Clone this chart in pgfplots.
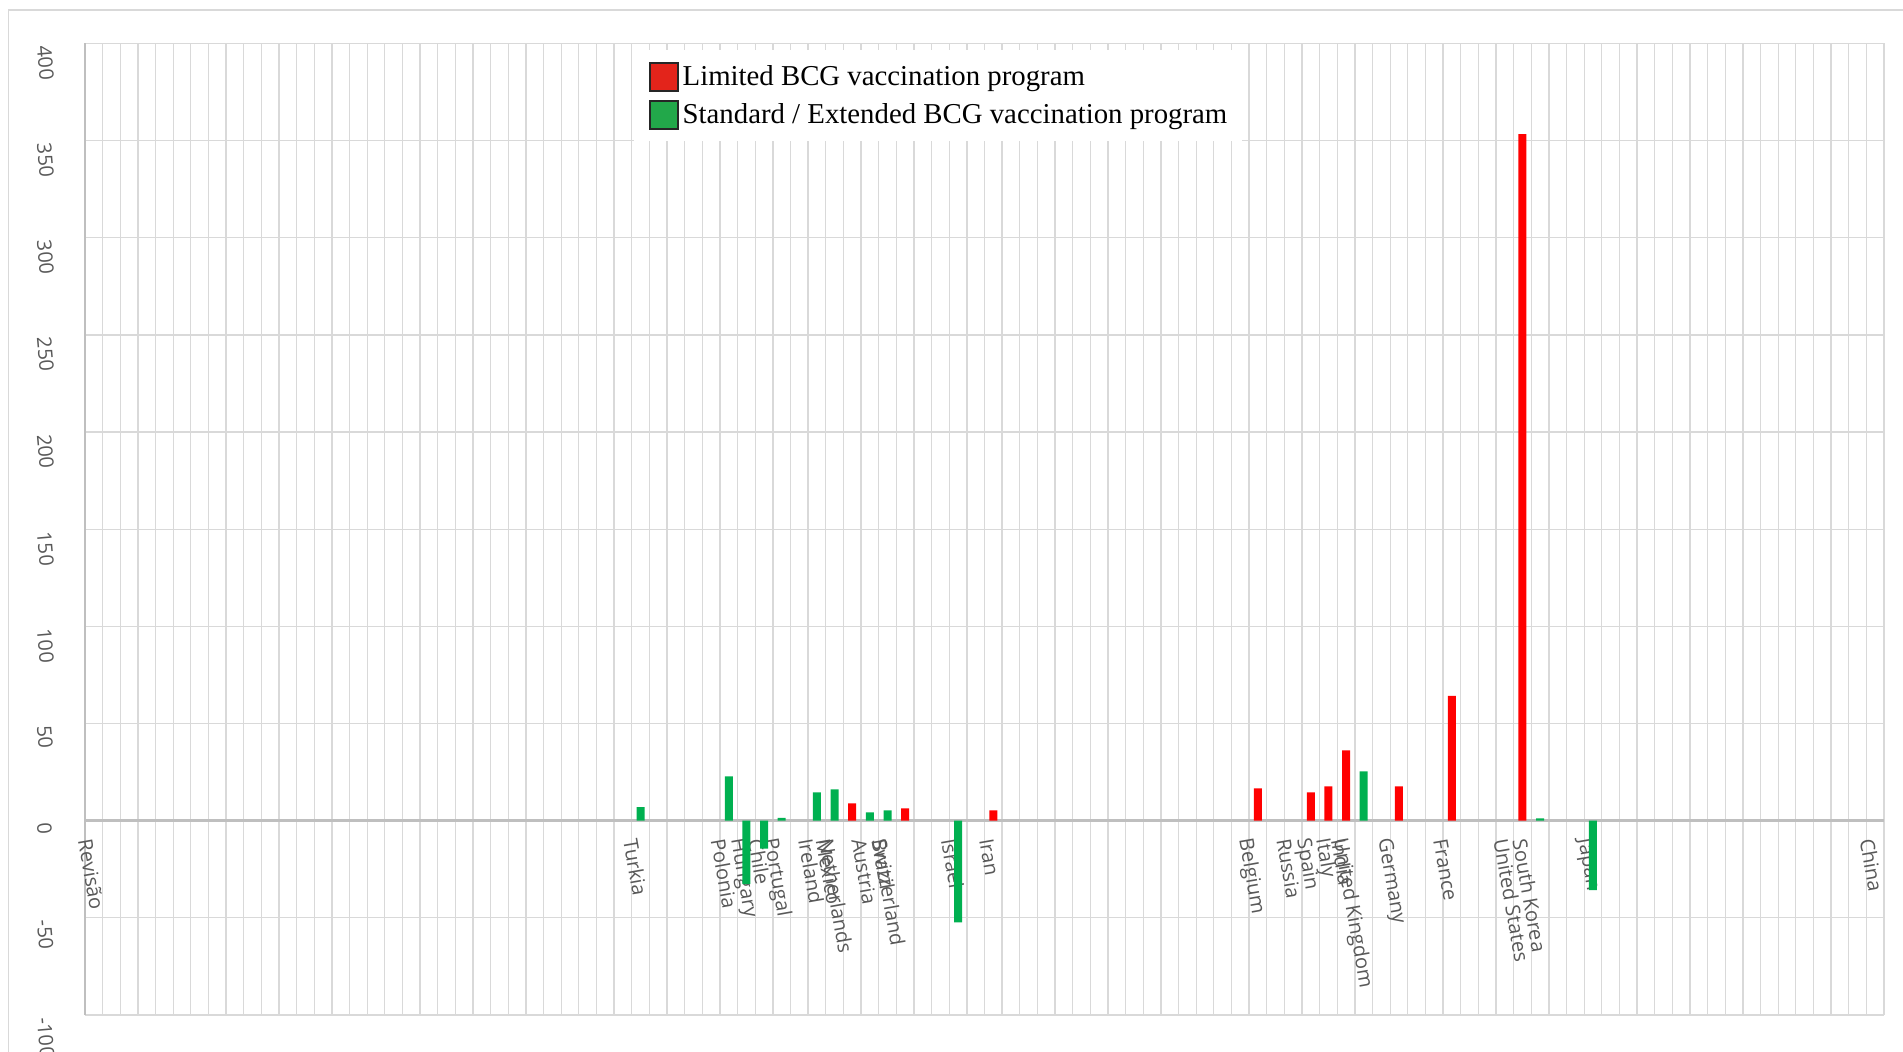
\documentclass[border=0pt]{standalone}
\usepackage{fontspec}
\setmainfont{Open Sans}
\newfontfamily\legendfont{Liberation Serif}
\usepackage{pgfplots}
\pgfplotsset{compat=1.18}
\definecolor{gridgray}{HTML}{D9D9D9}
\definecolor{axisgray}{HTML}{BFBFBF}
\definecolor{labelgray}{HTML}{595959}
\definecolor{barred}{HTML}{FF0000}
\definecolor{bargreen}{HTML}{00B050}
\definecolor{legred}{HTML}{E3241B}
\definecolor{leggreen}{HTML}{22A84A}
\pgfplotsset{
  sqlegend/.style={legend image code/.code={%
    \draw[fill=#1, draw=black!85, line width=0.8pt] (0pt,-7pt) rectangle (14pt,7pt);}},
}
\begin{document}
\begin{tikzpicture}
\path[use as bounding box] (0,0) rectangle (951.5pt,526pt);
\draw[gridgray, line width=0.65pt] (4.15pt,-20pt) rectangle (970pt,521pt);
\begin{axis}[
  at={(42.5pt,18.5pt)}, anchor=south west,
  scale only axis, width=899.5pt, height=485.75pt,
  xmin=0, xmax=102, ymin=-100, ymax=400,
  axis x line=middle, axis y line=left,
  axis line style={-},
  x axis line style={axisgray, line width=1.2pt},
  y axis line style={axisgray, line width=0.7pt},
  hide obscured x ticks=false, hide obscured y ticks=false,
  major tick length=0pt, minor tick length=0pt,
  ytick={-100,-50,...,400},
  yticklabels={-100,-50,0,50,100,150,200,250,300,350,400},
  ymajorgrids,
  minor xtick={0,1,...,102}, xminorgrids,
  grid style={gridgray, line width=0.65pt},
  minor grid style={gridgray, line width=0.65pt},
  xtick={0,30.92,35.89,36.89,38.0,38.8,40.85,41.83,42.02,43.85,45.0,45.05,48.94,51.08,65.72,67.95,68.99,70.09,71.05,71.1,73.6,76.83,80.27,81.35,84.94,101.03},
  xticklabels={Revisão,Turkia,Polonia,Hungary,Chile,Portugal,Ireland,Mexico,Netherlands,Austria,Brazil,Switzerland,Israel,Iran,Belgium,Russia,Spain,Italy,India,United Kingdom,Germany,France,United States,South Korea,Japan,China},
  tick label style={font=\fontsize{10}{12}\selectfont, text=labelgray},
  xticklabel style={yshift=-9pt, rotate=-80, anchor=west, inner sep=0pt},
  yticklabel style={xshift=-20.5pt, yshift=-1pt, rotate=-85, anchor=west, inner sep=0pt},
  legend style={at={(0.305,0.9933)}, anchor=north west, fill=white, draw=none,
    font=\legendfont\fontsize{14.4}{17}\selectfont, text=black,
    inner xsep=7.5pt, inner ysep=5.8pt, row sep=4.2pt, column sep=2pt,
    nodes={inner sep=0pt}},
  legend cell align=left,
]
\addplot[ybar, bar width=4pt, bar shift=0pt, fill=barred, draw=none, sqlegend=legred]
coordinates {(43.5,8.9) (46.5,6.3) (51.5,5.3) (66.5,16.6) (69.5,14.6) (70.5,17.7) (71.5,36.2) (74.5,17.7) (77.5,64.2) (81.5,353.3)};
\addplot[ybar, bar width=4pt, bar shift=0pt, fill=bargreen, draw=none, sqlegend=leggreen]
coordinates {(31.5,7) (36.5,22.8) (37.5,-32.6) (38.5,-14.4) (39.5,1.5) (41.5,14.6) (42.5,16.1) (44.5,4.3) (45.5,5.3) (49.5,-52.3) (72.5,25.4) (82.5,1.2) (85.5,-35.7)};
\legend{Limited BCG vaccination program, Standard / Extended BCG vaccination program}
\end{axis}
\end{tikzpicture}
\end{document}
